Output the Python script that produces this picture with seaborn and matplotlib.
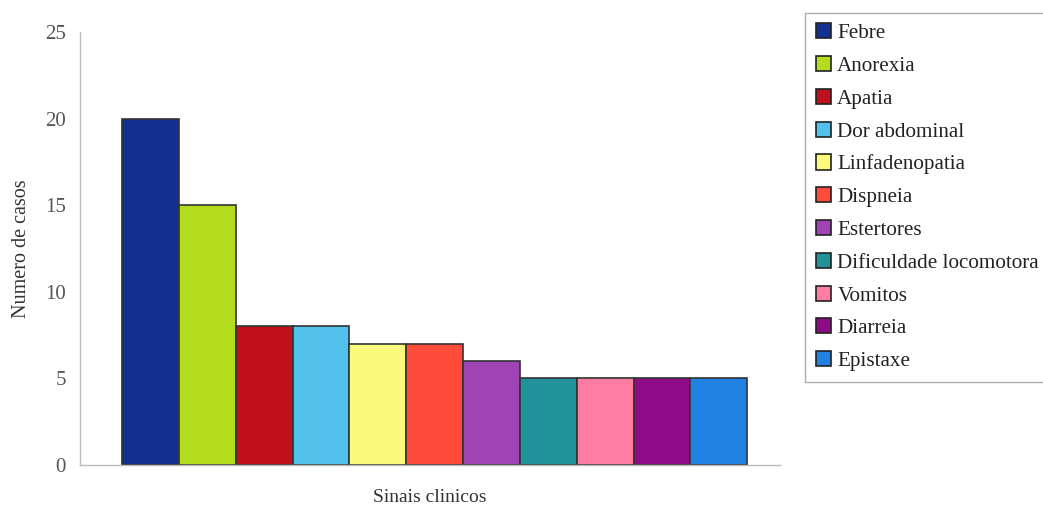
import pandas as pd
import seaborn as sns
import matplotlib.pyplot as plt

# -----------------------------
# DATA
# -----------------------------
sinais = [
    "Febre", "Anorexia", "Apatia", "Dor abdominal", "Linfadenopatia",
    "Dispneia", "Estertores", "Dificuldade locomotora", "Vomitos",
    "Diarreia", "Epistaxe",
]
casos = [20, 15, 8, 8, 7, 7, 6, 5, 5, 5, 5]
cores = [
    "#12308f", "#b3dd1c", "#c0101c", "#52c2ec", "#fafa7c",
    "#ff4b3a", "#a043b4", "#1f9399", "#ff7ca4", "#8f0a86", "#2282e4",
]

df = pd.DataFrame({"sinal": sinais, "casos": casos})

# -----------------------------
# PLOT
# -----------------------------
sns.set_style("white")
plt.rcParams["font.family"] = ["Liberation Serif", "DejaVu Serif"]

fig = plt.figure(figsize=(10.43, 5.12), dpi=100)
ax = fig.add_axes([0.0767, 0.0918, 0.6713, 0.8457])

sns.barplot(
    data=df, x="sinal", y="casos", hue="sinal",
    palette=cores, hue_order=sinais, order=sinais,
    width=1.0, dodge=False, legend=False, saturation=1,
    edgecolor="#333333", linewidth=1.2, ax=ax,
)

ax.set_xlim(-1.24, 11.08)
ax.set_ylim(0, 25)
ax.set_yticks([0, 5, 10, 15, 20, 25])
ax.set_xticks([])

for s in ["top", "right"]:
    ax.spines[s].set_visible(False)
for s in ["left", "bottom"]:
    ax.spines[s].set_color("#bbbbbb")
    ax.spines[s].set_linewidth(1.0)

ax.tick_params(axis="y", direction="out", length=5, width=1,
               color="#bbbbbb", labelsize=15, labelcolor="#555555", pad=5)

ax.set_ylabel("Numero de casos", fontsize=14.5, color="#333333", labelpad=10)
ax.set_xlabel("Sinais clinicos", fontsize=14, color="#333333", labelpad=17)

# legend
handles = [plt.Rectangle((0, 0), 1, 1, facecolor=c, edgecolor="#222222", linewidth=1.2)
           for c in cores]
leg = fig.legend(
    handles, sinais, loc="upper left", bbox_to_anchor=(0.772, 0.975),
    fontsize=15.2, frameon=True, fancybox=False, borderpad=0.5,
    handlelength=0.72, handleheight=0.72, handletextpad=0.3,
    labelspacing=0.61, borderaxespad=0,
)
leg.get_frame().set_edgecolor("#999999")
leg.get_frame().set_linewidth(1.0)
for t in leg.get_texts():
    t.set_color("#222222")

plt.savefig("out.png", dpi=100)
